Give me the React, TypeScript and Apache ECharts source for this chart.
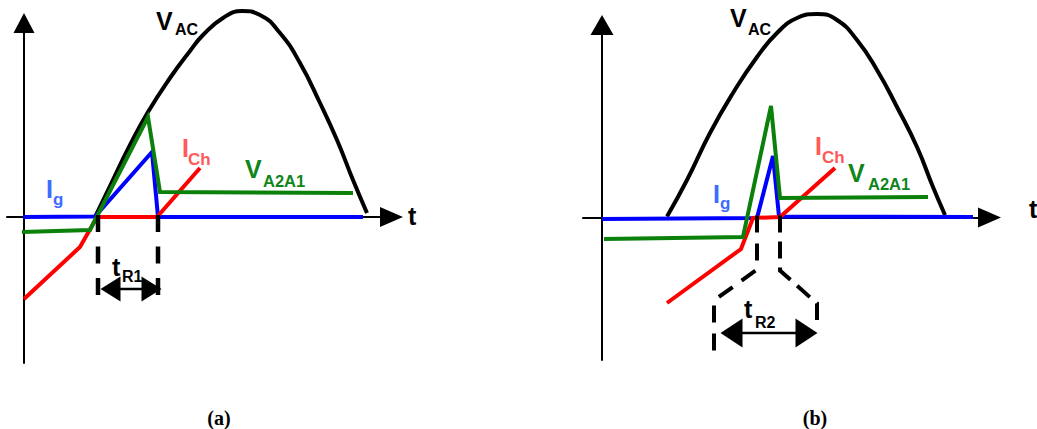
import React, { useEffect, useRef } from "react";
import * as echarts from "echarts";

// ---- Panel (a) data (schematic units) ----
const vacA: [number, number][] = [[7.1,0],[8.6,3.1],[10.6,7.2],[12.4,10.5],[14.6,13.9],[16.6,16.6],[17.9,18.2],[19.9,19.9],[21.8,20.6],[23.6,20.2],[25.6,18.4],[27.6,15.4],[29.6,11.4],[31.3,7.7],[32.9,3.7],[34.3,0.4]];
const igA: [number, number][] = [[-0.1,0],[7.1,0.05],[12.8,6.5],[13.4,0],[33.9,0]];
const ichA: [number, number][] = [[0,-8.2],[5.6,-3.0],[7.3,0],[13.3,0],[17.6,4.9]];
const vakA: [number, number][] = [[-0.2,-1.5],[6.6,-1.3],[12.4,10.0],[13.6,2.5],[32.9,2.4]];
const dashA1: [number, number][] = [[7.4,0.2],[7.4,-7.8]];
const dashA2: [number, number][] = [[13.4,0.2],[13.4,-7.8]];
const arrowA: [number, number][] = [[8.65,-7.2],[12.75,-7.2]];

// ---- Panel (b) data ----
const vacB: [number, number][] = [[6.5,0.1],[8.5,3.75],[10.8,8.45],[13.1,12.45],[15.5,16.05],[17.5,18.45],[19.5,19.95],[21.5,20.35],[23.5,19.75],[25.5,17.75],[27.5,14.75],[29.5,11.05],[31.5,7.05],[33.1,3.05],[34.3,0.25]];
const igB: [number, number][] = [[0,-0.15],[15.5,-0.05],[17.1,6.15],[17.7,0.1],[37.1,0.05]];
const ichB: [number, number][] = [[6.5,-8.55],[13.9,-3.15],[15.1,-0.05],[17.8,0.05],[23.3,4.95]];
const vakB: [number, number][] = [[0.2,-2.15],[14.1,-1.95],[16.9,11.15],[17.8,1.95],[32.6,2.05]];
const dashB1: [number, number][] = [[15.5,0.2],[15.5,-5.2],[11.2,-8.3],[11.2,-13.3]];
const dashB2: [number, number][] = [[17.8,0.2],[17.8,-5.3],[21.5,-8.6],[21.5,-10.3]];
const arrowB: [number, number][] = [[12.95,-11.55],[20.45,-11.55]];

// axis ranges
const xRangeA = [-1.7, 36.75];
const yRangeA = [-14.6, 19.4];
const xRangeB = [-1.9, 38.75];
const yRangeB = [-14.25, 19.25];

const BLACK = "#000000";
const BLUE = "#0000ff";
const RED = "#ff0000";
const GREEN = "#0b800b";
const BLUE_T = "#3d6bff";
const RED_T = "#ff5a5a";
const GREEN_T = "#10851a";

const SANS = "Liberation Sans";
const SERIF = "Liberation Serif";

type Lbl = { t: string; x: number; y: number; s: number; c: string; f?: string; align?: string };
const labels: Lbl[] = [
  // panel a
  { t: "V", x: 156, y: 21.4, s: 25, c: BLACK },
  { t: "AC", x: 175, y: 29.2, s: 16, c: BLACK },
  { t: "I", x: 46, y: 189.4, s: 25, c: BLUE_T },
  { t: "g", x: 53, y: 199.2, s: 17, c: BLUE_T },
  { t: "I", x: 182, y: 148.4, s: 25, c: RED_T },
  { t: "Ch", x: 188, y: 159.2, s: 17, c: RED_T },
  { t: "V", x: 245, y: 169.4, s: 25, c: GREEN_T },
  { t: "A2A1", x: 263, y: 181.2, s: 16.5, c: GREEN_T },
  { t: "t", x: 408, y: 216.4, s: 25, c: BLACK },
  { t: "t", x: 112, y: 267.4, s: 25, c: BLACK },
  { t: "R1", x: 122, y: 276.2, s: 16, c: BLACK },
  { t: "(a)", x: 219, y: 418, s: 20, c: BLACK, f: SERIF, align: "center" },
  // panel b
  { t: "V", x: 730, y: 18.4, s: 25, c: BLACK },
  { t: "AC", x: 748, y: 29.2, s: 16, c: BLACK },
  { t: "I", x: 713, y: 194.4, s: 25, c: BLUE_T },
  { t: "g", x: 720, y: 203.2, s: 17, c: BLUE_T },
  { t: "I", x: 815, y: 146.4, s: 25, c: RED_T },
  { t: "Ch", x: 822, y: 157.2, s: 17, c: RED_T },
  { t: "V", x: 848, y: 173.4, s: 25, c: GREEN_T },
  { t: "A2A1", x: 868, y: 184.2, s: 16.5, c: GREEN_T },
  { t: "t", x: 1029, y: 209.4, s: 25, c: BLACK },
  { t: "t", x: 744, y: 309.4, s: 25, c: BLACK },
  { t: "R2", x: 755, y: 322.2, s: 16, c: BLACK },
  { t: "(b)", x: 815, y: 418, s: 20, c: BLACK, f: SERIF, align: "center" },
];

function axisPair(grid: number, xr: number[], yr: number[], xArrow: number[], yArrow: number[]) {
  const common = {
    type: "value" as const,
    gridIndex: grid,
    axisTick: { show: false },
    axisLabel: { show: false },
    splitLine: { show: false },
  };
  return {
    x: {
      ...common,
      min: xr[0],
      max: xr[1],
      axisLine: { show: true, onZero: true, symbol: ["none", "triangle"], symbolSize: xArrow, lineStyle: { color: BLACK, width: 2 } },
    },
    y: {
      ...common,
      min: yr[0],
      max: yr[1],
      axisLine: { show: true, onZero: true, symbol: ["none", "triangle"], symbolSize: yArrow, lineStyle: { color: BLACK, width: 2 } },
    },
  };
}

function ln(data: [number, number][], idx: number, color: string, width: number, z: number, extra: any = {}) {
  return {
    type: "line",
    xAxisIndex: idx,
    yAxisIndex: idx,
    data,
    symbol: "none",
    showSymbol: false,
    clip: false,
    silent: true,
    z,
    lineStyle: { color, width, cap: "butt", join: "miter" },
    ...extra,
  };
}

function dashed(data: [number, number][], idx: number, width: number, pattern: number[]) {
  return ln(data, idx, BLACK, width, 6, {
    lineStyle: { color: BLACK, width, type: pattern, cap: "butt", join: "miter" },
  });
}

function dblArrow(data: [number, number][], idx: number, size: number[]) {
  return {
    type: "line",
    xAxisIndex: idx,
    yAxisIndex: idx,
    clip: false,
    silent: true,
    z: 7,
    symbol: "triangle",
    symbolSize: size,
    showSymbol: true,
    itemStyle: { color: BLACK },
    lineStyle: { color: BLACK, width: 2.5 },
    data: [
      { value: data[0], symbolRotate: 90 },
      { value: data[1], symbolRotate: -90 },
    ],
  };
}

export default function App() {
  const ref = useRef<HTMLDivElement>(null);
  useEffect(() => {
    if (!ref.current) return;
    const chart = echarts.init(ref.current, null, { renderer: "svg" });
    const a = axisPair(0, xRangeA, yRangeA, [20, 23], [21, 20]);
    const b = axisPair(1, xRangeB, yRangeB, [20, 23], [23, 20]);
    chart.setOption({
      animation: false,
      backgroundColor: "#ffffff",
      grid: [
        { left: 7, top: 23, width: 384.5, height: 340 },
        { left: 583, top: 25, width: 406.5, height: 335 },
      ],
      xAxis: [a.x, b.x],
      yAxis: [a.y, b.y],
      series: [
        ln(vacA, 0, BLACK, 4, 2, { smooth: 0.5 }),
        ln(igA, 0, BLUE, 4, 3),
        ln(ichA, 0, RED, 4, 4),
        ln(vakA, 0, GREEN, 4, 5),
        dashed(dashA1, 0, 4.5, [17, 14.5]),
        dashed(dashA2, 0, 4.5, [17, 14.5]),
        dblArrow(arrowA, 0, [25, 20]),
        ln(vacB, 1, BLACK, 4, 2, { smooth: 0.5 }),
        ln(igB, 1, BLUE, 4, 3),
        ln(ichB, 1, RED, 4, 4),
        ln(vakB, 1, GREEN, 4, 5),
        dashed(dashB1, 1, 4, [17, 11]),
        dashed(dashB2, 1, 4, [17, 9]),
        dblArrow(arrowB, 1, [29, 22]),
      ],
      graphic: labels.map((l) => ({
        type: "text",
        x: l.x,
        y: l.y,
        silent: true,
        z: 10,
        style: {
          text: l.t,
          fill: l.c,
          fontSize: l.s,
          fontWeight: "bold",
          fontFamily: l.f || SANS,
          align: l.align || "left",
          verticalAlign: "middle",
        },
      })),
    });
    return () => chart.dispose();
  }, []);
  return (
    <div
      ref={ref}
      style={{ position: "fixed", left: 0, top: 0, width: 1037, height: 429, background: "#fff" }}
    />
  );
}
